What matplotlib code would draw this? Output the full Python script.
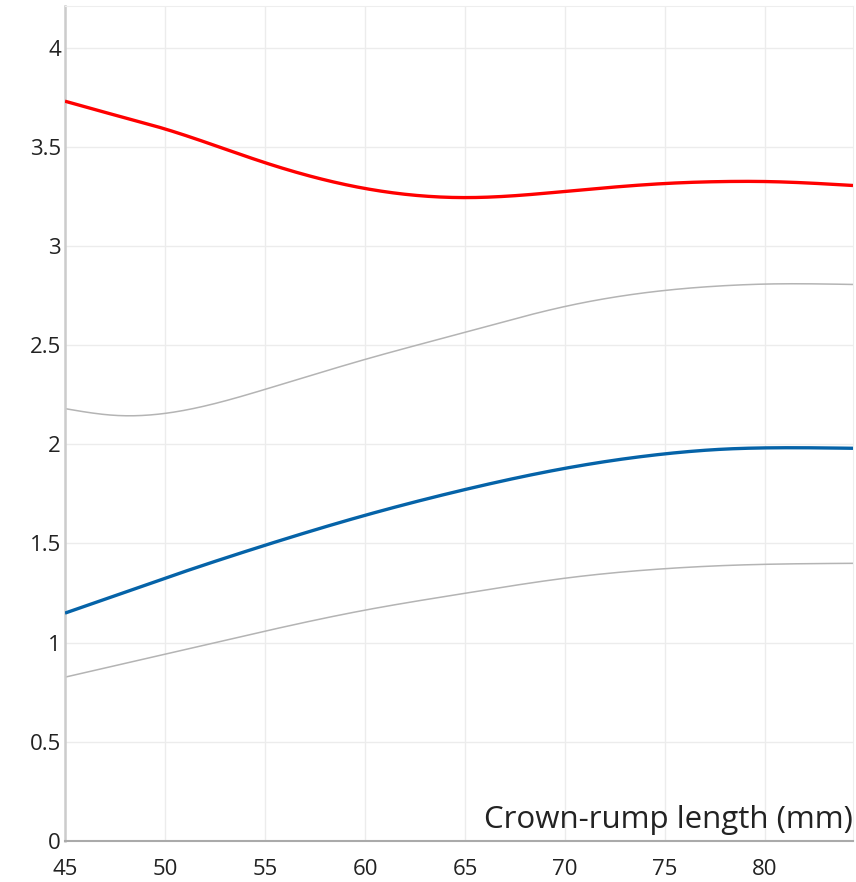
import numpy as np
import matplotlib
matplotlib.use("Agg")
import matplotlib.pyplot as plt

# Data
crl = [45, 47.5, 50, 55, 60, 65, 70, 75, 78, 80, 84.4]
upper_red = [3.73, 3.66, 3.59, 3.42, 3.29, 3.244, 3.275, 3.315, 3.325, 3.325, 3.305]
upper_gray = [2.18, 2.146, 2.156, 2.277, 2.428, 2.565, 2.695, 2.776, 2.80, 2.808, 2.806]
median_blue = [1.149, 1.237, 1.325, 1.491, 1.642, 1.772, 1.879, 1.952, 1.976, 1.982, 1.98]
lower_gray = [0.826, 0.884, 0.942, 1.058, 1.164, 1.249, 1.325, 1.373, 1.389, 1.395, 1.40]

xticks = [45, 50, 55, 60, 65, 70, 75, 80]
yticks = [0, 0.5, 1, 1.5, 2, 2.5, 3, 3.5, 4]
xlabel = "Crown-rump length (mm)"


def natural_spline(x, y, n=400):
    x = np.asarray(x, float)
    y = np.asarray(y, float)
    k = len(x)
    h = np.diff(x)
    A = np.zeros((k, k))
    b = np.zeros(k)
    A[0, 0] = 1
    A[-1, -1] = 1
    for i in range(1, k - 1):
        A[i, i - 1] = h[i - 1]
        A[i, i] = 2 * (h[i - 1] + h[i])
        A[i, i + 1] = h[i]
        b[i] = 3 * ((y[i + 1] - y[i]) / h[i] - (y[i] - y[i - 1]) / h[i - 1])
    c = np.linalg.solve(A, b)
    xs = np.linspace(x[0], x[-1], n)
    ys = np.empty_like(xs)
    for j, xv in enumerate(xs):
        i = min(np.searchsorted(x, xv, side="right") - 1, k - 2)
        i = max(i, 0)
        dx = xv - x[i]
        bb = (y[i + 1] - y[i]) / h[i] - h[i] * (2 * c[i] + c[i + 1]) / 3
        d = (c[i + 1] - c[i]) / (3 * h[i])
        ys[j] = y[i] + bb * dx + c[i] * dx ** 2 + d * dx ** 3
    return xs, ys


plt.rcParams['font.family'] = ['Open Sans', 'DejaVu Sans']

fig = plt.figure(figsize=(8.56, 8.82), dpi=100)
ax = fig.add_axes([65 / 856, 1 - 841 / 882, (853 - 65) / 856, (841 - 6) / 882])

for ys, col, lw, z in [(lower_gray, '#b4b4b4', 1.1, 2),
                       (upper_gray, '#b4b4b4', 1.1, 2),
                       (median_blue, '#0563a8', 2.4, 3),
                       (upper_red, '#ff0000', 2.4, 3)]:
    sx, sy = natural_spline(crl, ys)
    ax.plot(sx, sy, color=col, lw=lw, zorder=z, solid_capstyle='butt')

ax.set_xlim(45, 84.4)
ax.set_ylim(0, 4.21)
ax.set_xticks(xticks)
ax.set_xticklabels([str(t) for t in xticks])
ax.set_yticks(yticks)
ax.set_yticklabels([f"{t:g}" for t in yticks])
ax.grid(True, color='#ececec', lw=1.0, zorder=0)
ax.set_axisbelow(True)
ax.tick_params(length=0, labelsize=16, colors='#222222')
ax.tick_params(axis='x', pad=13)
ax.tick_params(axis='y', pad=3)

ax.spines['left'].set_color('#cccccc')
ax.spines['left'].set_linewidth(1.8)
ax.spines['bottom'].set_color('#aaaaaa')
ax.spines['bottom'].set_linewidth(1.5)
ax.spines['top'].set_color('#eeeeee')
ax.spines['right'].set_color('#eeeeee')

ax.text(84.4, 0.065, xlabel, ha='right', va='baseline', fontsize=22.5, color='#222222')

fig.savefig("out.png", dpi=100)
